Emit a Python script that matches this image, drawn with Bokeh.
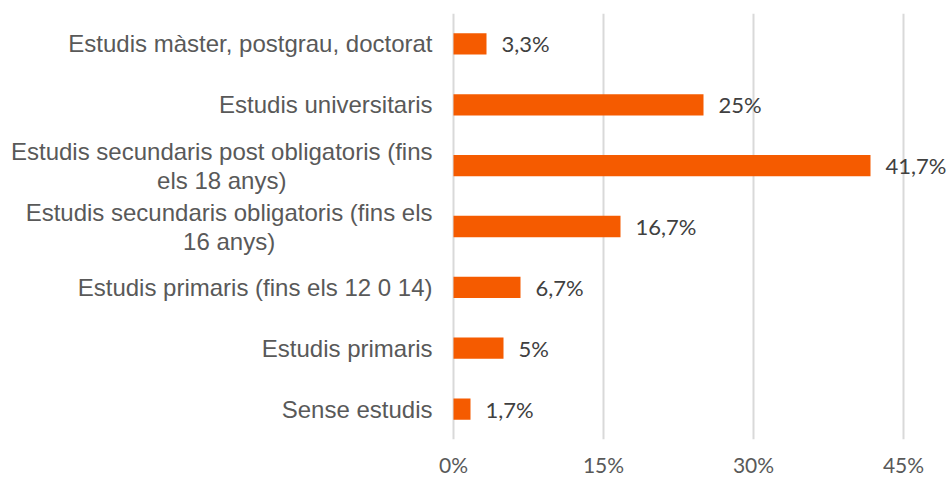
from bokeh.plotting import figure
from bokeh.models import ColumnDataSource, FixedTicker, PrintfTickFormatter
from bokeh.core.properties import value
from bokeh.embed import file_html
from bokeh.resources import INLINE

# bottom to top
categories = [
    "Sense estudis",
    "Estudis primaris",
    "Estudis primaris (fins els 12 0 14)",
    "Estudis secundaris obligatoris (fins els 16 anys)",
    "Estudis secundaris post obligatoris (fins els 18 anys)",
    "Estudis universitaris",
    "Estudis màster, postgrau, doctorat",
]
label_line1 = [
    "Sense estudis",
    "Estudis primaris",
    "Estudis primaris (fins els 12 0 14)",
    "Estudis secundaris obligatoris (fins els",
    "Estudis secundaris post obligatoris (fins",
    "Estudis universitaris",
    "Estudis màster, postgrau, doctorat",
]
label_line2 = ["", "", "", "16 anys)", "els 18 anys)", "", ""]
values = [1.7, 5, 6.7, 16.7, 41.7, 25, 3.3]
x_ticks = [0, 15, 30, 45]

# Arial / Liberation Sans advance widths (per 1000 em) to centre wrapped lines
ARIAL_W = {" ": 278, "E": 667, "S": 667, "s": 500, "t": 278, "u": 556, "d": 556,
           "i": 222, "c": 500, "n": 556, "a": 556, "r": 333, "p": 556, "o": 556,
           "b": 556, "l": 222, "g": 556, "(": 333, ")": 333, "f": 278, "e": 556,
           "m": 833, "à": 556, ",": 278, "v": 500, "y": 500, "0": 556, "1": 556,
           "2": 556, "4": 556, "6": 556, "8": 556}
CAT_FONT_PX = 24
PX_PER_UNIT = 10.0          # 10 px per 1 %
LEFT_PX = 453               # screen position of 0 %
FIG_W, FIG_H = 948, 479
GAP_PX = 21

def text_w(s):
    return sum(ARIAL_W.get(ch, 556) for ch in s) / 1000 * CAT_FONT_PX

labels = [f"{v:g}".replace(".", ",") + "%" for v in values]
src = ColumnDataSource(dict(cat=categories, val=values, lab=labels))

x_anchor = -GAP_PX / PX_PER_UNIT
single = [i for i, l2 in enumerate(label_line2) if not l2]
double = [i for i, l2 in enumerate(label_line2) if l2]
src_single = ColumnDataSource(dict(
    cat=[categories[i] for i in single], txt=[label_line1[i] for i in single],
    x=[x_anchor] * len(single)))
src_l1 = ColumnDataSource(dict(
    cat=[categories[i] for i in double], txt=[label_line1[i] for i in double],
    x=[x_anchor] * len(double)))
src_l2 = ColumnDataSource(dict(
    cat=[categories[i] for i in double], txt=[label_line2[i] for i in double],
    x=[x_anchor - text_w(label_line1[i]) / 2 / PX_PER_UNIT for i in double]))

x_start = -LEFT_PX / PX_PER_UNIT
x_end = (FIG_W - LEFT_PX) / PX_PER_UNIT

p = figure(
    y_range=categories, x_range=(x_start, x_end),
    width=FIG_W, height=FIG_H, output_backend="svg", toolbar_location=None,
    min_border_left=0, min_border_right=0, min_border_top=13, min_border_bottom=39,
)
p.outline_line_color = None
p.background_fill_color = "white"
p.border_fill_color = "white"

p.xgrid.ticker = FixedTicker(ticks=x_ticks)
p.xgrid.grid_line_color = "#d9d9d9"
p.xgrid.grid_line_width = 2
p.ygrid.grid_line_color = None

p.hbar(y="cat", right="val", left=0, height=0.35, source=src,
       fill_color="#F55B00", line_color=None)

p.text(x="val", y="cat", text="lab", source=src, x_offset=15,
       text_align="left", text_baseline="middle",
       text_font=value("Lato"), text_font_size="22px", text_color="#404040")

cat_style = dict(text_font=value("Liberation Sans"),
                 text_font_size=f"{CAT_FONT_PX}px", text_color="#595959",
                 text_baseline="middle")
p.text(x="x", y="cat", text="txt", source=src_single, text_align="right", **cat_style)
p.text(x="x", y="cat", text="txt", source=src_l1, text_align="right",
       y_offset=-14.5, **cat_style)
p.text(x="x", y="cat", text="txt", source=src_l2, text_align="center",
       y_offset=14.5, **cat_style)

p.yaxis.visible = False

p.xaxis.ticker = FixedTicker(ticks=x_ticks)
p.xaxis.formatter = PrintfTickFormatter(format="%d%%")
p.xaxis.axis_line_color = None
p.xaxis.major_tick_line_color = None
p.xaxis.minor_tick_line_color = None
p.xaxis.major_tick_out = 0
p.xaxis.major_tick_in = 0
p.xaxis.major_label_standoff = 12
p.xaxis.major_label_text_font = "Lato"
p.xaxis.major_label_text_font_size = "21px"
p.xaxis.major_label_text_color = "#595959"

open("out.html", "w").write(file_html(p, INLINE))
